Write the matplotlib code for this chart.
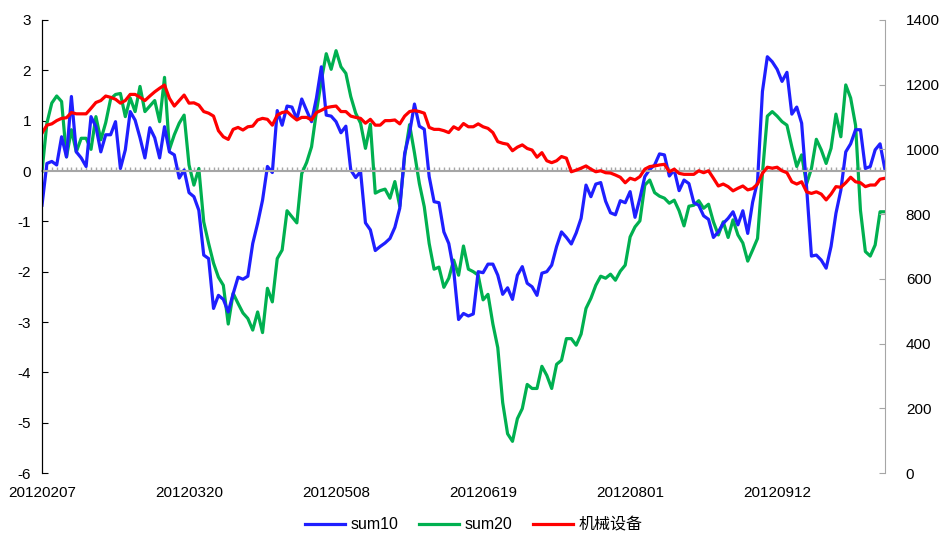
import numpy as np
import matplotlib.pyplot as plt

# values, one per trading day from 20120207
sum10 = [-0.68, 0.15, 0.19, 0.12, 0.68, 0.28, 1.48, 0.38, 0.26, 0.09,
         1.08, 0.88, 0.38, 0.72, 0.72, 0.98, 0.05, 0.42, 1.18, 1.01,
         0.66, 0.26, 0.86, 0.66, 0.26, 0.88, 0.38, 0.32, -0.14, 0.02,
         -0.43, -0.51, -0.78, -1.67, -1.74, -2.73, -2.47, -2.55, -2.80, -2.44,
         -2.11, -2.15, -2.09, -1.44, -1.04, -0.58, 0.09, -0.03, 1.20, 0.91,
         1.29, 1.27, 1.03, 1.43, 1.20, 0.98, 1.45, 2.07, 1.11, 1.09,
         0.98, 0.76, 0.89, 0.02, -0.13, -0.01, -1.03, -1.17, -1.58, -1.50,
         -1.43, -1.34, -1.12, -0.74, 0.35, 0.76, 1.33, 0.89, 0.83, -0.11,
         -0.61, -0.63, -1.21, -1.44, -1.97, -2.95, -2.83, -2.88, -2.84, -2.00,
         -2.02, -1.85, -1.85, -2.07, -2.45, -2.32, -2.55, -2.07, -1.90, -2.23,
         -2.30, -2.47, -2.03, -2.00, -1.87, -1.50, -1.21, -1.32, -1.45, -1.23,
         -0.94, -0.28, -0.51, -0.26, -0.23, -0.60, -0.83, -0.87, -0.59, -0.63,
         -0.41, -0.92, -0.54, -0.11, 0.03, 0.12, 0.34, 0.32, -0.10, 0.02,
         -0.39, -0.18, -0.25, -0.63, -0.68, -0.89, -0.96, -1.32, -1.21, -1.04,
         -0.94, -0.81, -1.07, -0.79, -1.24, -0.62, -0.21, 1.58, 2.27, 2.17,
         2.02, 1.78, 1.96, 1.13, 1.27, 0.95, -0.31, -1.69, -1.67, -1.77,
         -1.93, -1.50, -0.84, -0.38, 0.38, 0.54, 0.82, 0.82, 0.05, 0.09,
         0.42, 0.54, 0.03]

sum20 = [-0.01, 0.95, 1.35, 1.49, 1.38, 0.28, 0.82, 0.38, 0.65, 0.65,
         0.43, 1.08, 0.62, 0.96, 1.43, 1.52, 1.54, 1.08, 1.45, 1.18,
         1.68, 1.18, 1.29, 1.40, 0.98, 1.86, 0.43, 0.72, 0.95, 1.11,
         0.12, -0.28, 0.05, -1.01, -1.44, -1.83, -2.11, -2.27, -3.04, -2.43,
         -2.63, -2.82, -2.93, -3.16, -2.80, -3.21, -2.33, -2.60, -1.74, -1.57,
         -0.79, -0.91, -1.03, -0.05, 0.17, 0.48, 1.18, 1.80, 2.33, 2.02,
         2.39, 2.07, 1.94, 1.48, 1.15, 0.95, 0.45, 0.93, -0.44, -0.39,
         -0.36, -0.54, -0.21, -0.70, 0.30, 0.92, 0.36, -0.25, -0.71, -1.44,
         -1.95, -1.91, -2.31, -2.13, -1.77, -2.07, -1.49, -1.95, -2.00, -2.07,
         -2.56, -2.45, -3.04, -3.51, -4.60, -5.22, -5.37, -4.92, -4.72, -4.24,
         -4.32, -4.32, -3.88, -4.06, -4.32, -3.84, -3.76, -3.33, -3.33, -3.46,
         -3.24, -2.73, -2.53, -2.27, -2.09, -2.13, -2.05, -2.17, -1.99, -1.87,
         -1.31, -1.11, -0.99, -0.28, -0.18, -0.43, -0.50, -0.54, -0.64, -0.58,
         -0.79, -1.09, -0.70, -0.68, -0.59, -0.74, -0.66, -1.01, -1.27, -1.01,
         -1.32, -0.97, -1.27, -1.43, -1.79, -1.57, -1.34, -0.05, 1.09, 1.18,
         1.09, 0.98, 0.91, 0.48, 0.09, 0.32, -0.26, 0.05, 0.63, 0.42,
         0.15, 0.45, 1.13, 0.68, 1.71, 1.45, 0.91, -0.78, -1.60, -1.69,
         -1.47, -0.81, -0.81]

machinery = [1050, 1075, 1079, 1089, 1096, 1098, 1114, 1110, 1110, 1110,
             1127, 1145, 1151, 1165, 1161, 1155, 1143, 1151, 1170, 1170,
             1161, 1151, 1165, 1178, 1189, 1199, 1158, 1134, 1151, 1168,
             1143, 1144, 1137, 1117, 1112, 1103, 1058, 1039, 1031, 1062,
             1068, 1060, 1070, 1072, 1091, 1096, 1093, 1075, 1106, 1114,
             1117, 1103, 1091, 1099, 1099, 1091, 1114, 1121, 1129, 1132,
             1134, 1117, 1117, 1103, 1099, 1096, 1081, 1093, 1075, 1075,
             1089, 1089, 1091, 1079, 1103, 1117, 1120, 1117, 1112, 1068,
             1062, 1062, 1058, 1052, 1070, 1062, 1080, 1070, 1070, 1079,
             1070, 1065, 1052, 1024, 1019, 1016, 996, 1007, 1014, 1003,
             998, 976, 990, 965, 959, 965, 978, 973, 931, 936,
             942, 949, 939, 931, 934, 928, 927, 921, 914, 897,
             911, 906, 916, 939, 947, 949, 952, 954, 931, 939,
             926, 923, 923, 923, 934, 928, 934, 911, 887, 893,
             885, 872, 880, 887, 875, 879, 893, 926, 945, 942,
             945, 934, 928, 900, 893, 900, 869, 864, 869, 862,
             844, 862, 885, 883, 897, 914, 900, 897, 885, 890,
             890, 908, 911]

date_labels = ['20120207', '20120320', '20120508', '20120619', '20120801', '20120912']
label_step = 30

plt.rcParams['font.family'] = ['Liberation Sans', 'Noto Sans CJK SC', 'DejaVu Sans']
plt.rcParams['font.size'] = 11
plt.rcParams['axes.unicode_minus'] = False

fig = plt.figure(figsize=(9.48, 5.4), dpi=100)
ax = fig.add_axes([0.0443, 0.124, 0.8892, 0.839])
ax2 = ax.twinx()

x = np.arange(len(sum10))

ln2, = ax.plot(x, sum20, color='#00b050', lw=2.3, label='sum20')
ln1, = ax.plot(x, sum10, color='#1f1fff', lw=2.3, label='sum10')
ln3, = ax2.plot(x, machinery, color='#ff0000', lw=2.3, label='机械设备')

ax.set_xlim(0, len(x) - 1)
ax.set_ylim(-6, 3)
ax.set_yticks(np.arange(-6, 4, 1))
ax2.set_ylim(0, 1400)
ax2.set_yticks(np.arange(0, 1401, 200))

# zero line carries a small tick for every trading day
ax.spines['bottom'].set_position(('data', 0))
ax.spines['bottom'].set_color('#a6a6a6')
ax.spines['bottom'].set_linewidth(1.5)
ax.set_xticks(x)
ax.tick_params(axis='x', direction='in', length=3, width=1, color='#a6a6a6',
               labelbottom=False)

sec = ax.secondary_xaxis(0.0)
sec.set_xticks(x[::label_step], date_labels)
sec.spines['bottom'].set_visible(False)
sec.tick_params(length=0, pad=9)

for a in (ax, ax2):
    a.spines['top'].set_visible(False)
ax2.spines['bottom'].set_visible(False)
ax.spines['right'].set_visible(False)
ax.spines['left'].set_color('black')
ax2.spines['right'].set_color('#a6a6a6')
ax.tick_params(axis='y', direction='in', length=4, pad=8)
ax2.tick_params(axis='y', direction='in', length=4, color='#a6a6a6', pad=15)

fig.legend([ln1, ln2, ln3], ['sum10', 'sum20', '机械设备'], loc='lower center',
           bbox_to_anchor=(0.5, -0.012), ncol=3, frameon=False, handlelength=2.5,
           handletextpad=0.35, columnspacing=1.3, fontsize=11.5)

fig.savefig('out.png', dpi=100)
